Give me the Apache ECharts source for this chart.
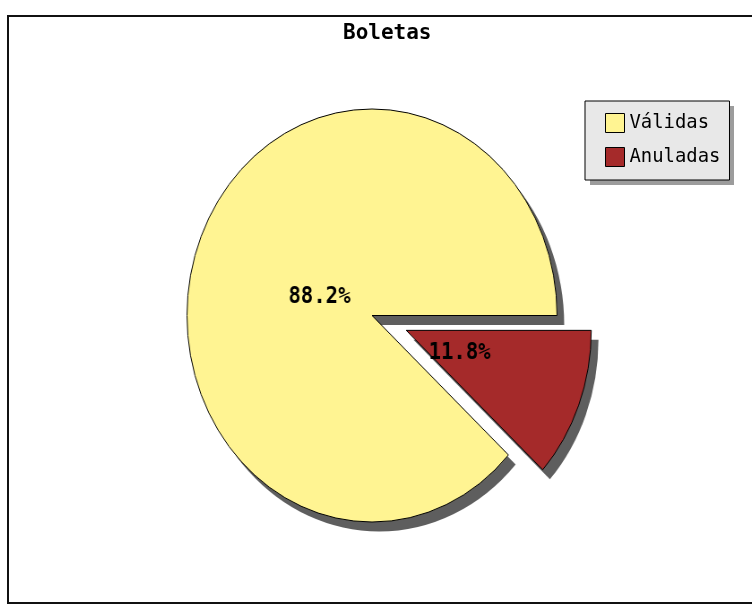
<!DOCTYPE html>
<html><head><meta charset="utf-8">
<script src="https://cdn.jsdelivr.net/npm/echarts@6/dist/echarts.min.js"></script>
<style>
html,body{margin:0;padding:0;background:#fff;overflow:hidden;}
#pie{position:absolute;left:0;top:0;width:752px;height:606px;transform-origin:372px 315.5px;transform:scaleX(0.896);}
#main{position:absolute;left:0;top:0;width:752px;height:606px;}
</style></head><body>
<div id="pie"></div><div id="main"></div>
<script>
const titleText = 'Boletas';
const categories = ['Válidas', 'Anuladas'];
const values = [88.2, 11.8];
const colors = ['#FFF492', '#A52A2A'];
const explodedName = 'Anuladas';

const FONT = '"DejaVu Sans Mono", "Liberation Mono", monospace';
const CX = 372, CY = 315.5, R = 206.5;
const SHADOW = '#5e5e5e';

function makeData(mode) {
  return categories.map((n, i) => ({
    name: n,
    value: values[i],
    selected: n === explodedName,
    itemStyle: mode === 'fill' ? { color: colors[i] }
      : mode === 'shadow' ? { color: SHADOW, borderWidth: 0 }
      : { color: 'rgba(0,0,0,0)', borderWidth: 0 }
  }));
}

const common = {
  type: 'pie',
  startAngle: 0,
  clockwise: false,
  selectedMode: 'single',
  silent: true,
  avoidLabelOverlap: false,
  emphasis: { disabled: true, scale: false },
  labelLine: { show: false }
};

const pieChart = echarts.init(document.getElementById('pie'), null, { renderer: 'canvas' });
pieChart.setOption({
  animation: false,
  series: [
    Object.assign({}, common, {
      center: [CX + 8, CY + 9.5],
      radius: R,
      selectedOffset: 41,
      label: { show: false },
      data: makeData('shadow')
    }),
    Object.assign({}, common, {
      center: [CX, CY],
      radius: R,
      selectedOffset: 41,
      label: { show: false },
      itemStyle: { borderColor: '#000', borderWidth: 1 },
      data: makeData('fill')
    }),
    Object.assign({}, common, {
      center: [CX, CY],
      radius: R * 0.58,
      selectedOffset: 42,
      percentPrecision: 1,
      label: {
        show: true, position: 'inside', formatter: '{d}%', offset: [0, 4],
        fontFamily: FONT, fontWeight: 'bold', fontSize: 23, color: '#000'
      },
      data: makeData('none')
    })
  ]
});

const mainChart = echarts.init(document.getElementById('main'), null, { renderer: 'canvas' });
mainChart.setOption({
  animation: false,
  backgroundColor: 'transparent',
  title: {
    text: titleText,
    left: 343, top: 23, padding: 0,
    textStyle: { fontFamily: FONT, fontWeight: 'bold', fontSize: 21, color: '#000' }
  },
  legend: {
    orient: 'vertical',
    left: 585, top: 101,
    padding: [12, 9, 13, 20],
    itemGap: 14,
    itemWidth: 19, itemHeight: 19,
    icon: 'rect',
    selectedMode: false,
    backgroundColor: '#E8E8E8',
    borderColor: '#000', borderWidth: 1,
    itemStyle: { borderColor: '#000', borderWidth: 1 },
    textStyle: { fontFamily: FONT, fontSize: 18.9, color: '#000' },
    data: categories
  },
  graphic: [
    {
      type: 'rect', z: 1, silent: true,
      shape: { x: 590, y: 106, width: 144, height: 79 },
      style: { fill: '#9c9c9c' }
    },
    {
      type: 'rect', z: 1, silent: true,
      shape: { x: 8, y: 16, width: 790, height: 587 },
      style: { fill: 'none', stroke: '#111', lineWidth: 2 }
    }
  ],
  series: [{
    type: 'pie',
    center: [-100, -100],
    radius: 0,
    silent: true,
    label: { show: false },
    labelLine: { show: false },
    data: categories.map((n, i) => ({ name: n, value: values[i], itemStyle: { color: colors[i] } }))
  }]
});
</script>
</body></html>
